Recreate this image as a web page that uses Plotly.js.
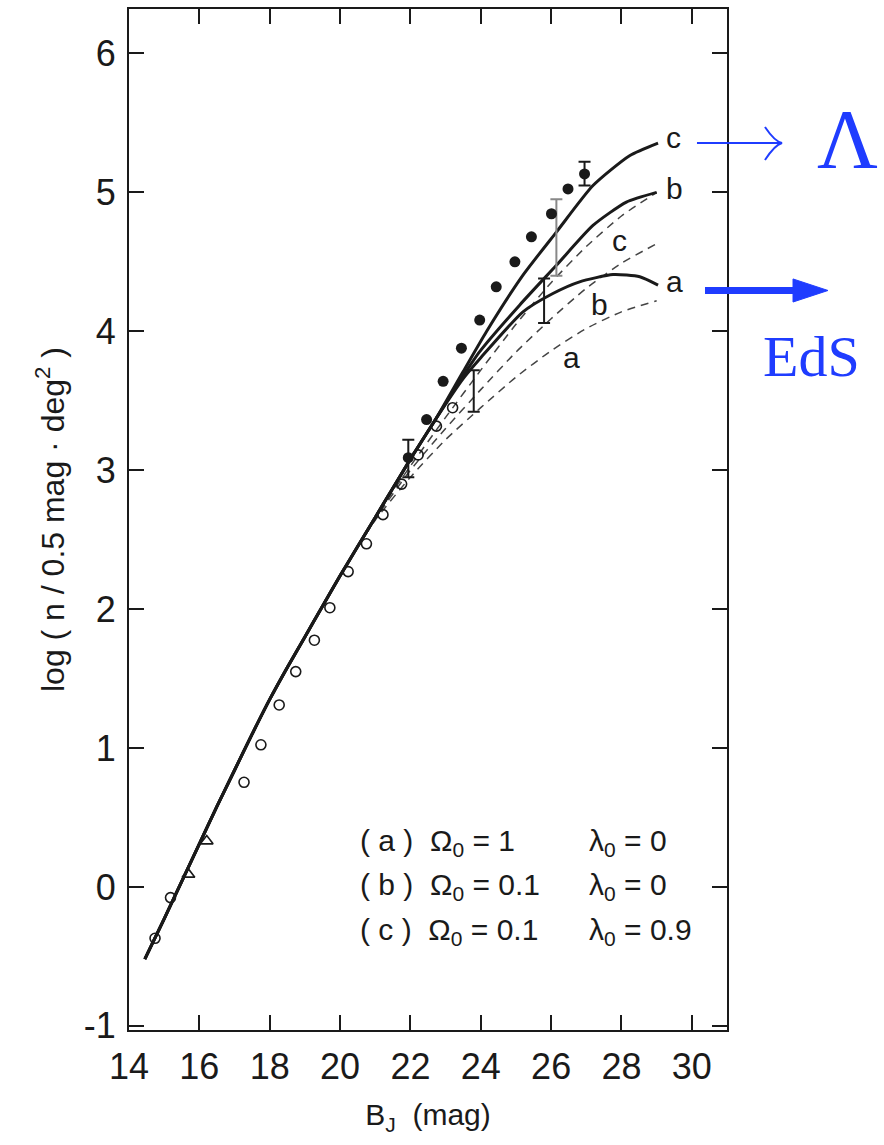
<!DOCTYPE html>
<html>
<head>
<meta charset="utf-8">
<script src="https://cdn.plot.ly/plotly-3.0.1.min.js"></script>
<style>html,body{margin:0;padding:0;background:#fff;}#chart{width:884px;height:1145px;}</style>
</head>
<body>
<div id="chart"></div>
<script>
// shared bright-end part of the model curves (all three coincide)
const baseX = [14.45, 15.0, 15.5, 16.0, 16.5, 17.0, 17.5, 18.0, 18.5, 19.0, 19.5, 20.0, 20.5, 21.0, 21.5, 22.0, 22.5, 22.74];
const baseY = [-0.52, -0.23, 0.04, 0.31, 0.58, 0.84, 1.10, 1.35, 1.58, 1.80, 2.02, 2.24, 2.45, 2.66, 2.87, 3.08, 3.28, 3.376];

// solid (evolving) model tails
const solidA_x = [23.5, 24.0, 25.2, 26.05, 26.81, 27.76, 28.52, 29.04];
const solidA_y = [3.66, 3.81, 4.14, 4.272, 4.356, 4.408, 4.392, 4.332];
const solidB_x = [23.5, 23.97, 25.11, 26.15, 27.19, 28.14, 29.0];
const solidB_y = [3.68, 3.854, 4.19, 4.475, 4.762, 4.93, 5.0];
const solidC_x = [23.5, 24.16, 25.2, 26.15, 27.19, 28.23, 29.04];
const solidC_y = [3.71, 3.997, 4.404, 4.714, 5.049, 5.264, 5.355];

// dashed (no-evolution) models
const dashX  = [20.5, 21, 22, 23, 24, 25, 26, 27, 28, 29];
const dashA_y = [2.45, 2.64, 2.95, 3.22, 3.45, 3.67, 3.86, 4.02, 4.14, 4.22];
const dashB_y = [2.45, 2.65, 3.00, 3.30, 3.58, 3.85, 4.09, 4.31, 4.49, 4.63];
const dashC_y = [2.45, 2.66, 3.03, 3.38, 3.72, 4.05, 4.35, 4.61, 4.83, 5.00];

// data points
const filledX = [21.94, 22.46, 22.93, 23.45, 23.97, 24.44, 24.97, 25.44, 26.01, 26.48, 26.95];
const filledY = [3.09, 3.364, 3.64, 3.878, 4.081, 4.32, 4.50, 4.68, 4.846, 5.025, 5.133];
const openX = [14.74, 15.18, 17.27, 17.75, 18.27, 18.74, 19.27, 19.71, 20.23, 20.75, 21.22, 21.75, 22.22, 22.74, 23.2];
const openY = [-0.37, -0.077, 0.753, 1.023, 1.31, 1.55, 1.776, 2.01, 2.27, 2.47, 2.68, 2.90, 3.11, 3.317, 3.45];
const triX = [15.69, 16.21];
const triY = [0.09, 0.33];

// error bars (low / high)
const errX    = [21.94, 23.8, 25.8, 26.95];
const errLow  = [2.95, 3.42, 4.06, 5.05];
const errHigh = [3.22, 3.72, 4.38, 5.22];
const grayErrX = [26.15];
const grayErrLow = [4.40];
const grayErrHigh = [4.95];

// curve labels
const solidLabels = ['c', 'b', 'a'];
const solidLabelY = [5.395, 5.025, 4.36];
const dashLabels = ['c', 'b', 'a'];
const dashLabelX = [27.95, 27.38, 26.58];
const dashLabelY = [4.655, 4.19, 3.81];

// parameter key
const keyLeft = ['( a )  Ω<sub>0</sub> = 1', '( b )  Ω<sub>0</sub> = 0.1', '( c )  Ω<sub>0</sub> = 0.1'];
const keyRight = ['λ<sub>0</sub> = 0', 'λ<sub>0</sub> = 0', 'λ<sub>0</sub> = 0.9'];
const keyY = [0.32, 0.0, -0.32];

const xTicks = [14, 16, 18, 20, 22, 24, 26, 28, 30];
const yTicks = [-1, 0, 1, 2, 3, 4, 5, 6];

const INK = '#1a1a1a';
const BLUE = '#1f3cff';
const FONT = "'Liberation Sans Narrow', 'Liberation Sans', Arial, sans-serif";
const SERIF = "'Liberation Serif', 'Times New Roman', serif";

function solid(tx, ty, name) {
  return {x: baseX.concat(tx), y: baseY.concat(ty), mode: 'lines', name: name,
          line: {color: INK, width: 3, shape: 'spline', smoothing: 0.6}, hoverinfo: 'skip'};
}
function dashed(ty, name) {
  return {x: dashX, y: ty, mode: 'lines', name: name,
          line: {color: '#444', width: 1.5, dash: '8px,6px', shape: 'spline', smoothing: 0.6}};
}
function errTrace(xs, lo, hi, color) {
  const mid = xs.map((_, i) => (lo[i] + hi[i]) / 2);
  return {x: xs, y: mid, mode: 'markers', marker: {size: 1, color: 'rgba(0,0,0,0)'},
          error_y: {type: 'data', symmetric: false,
                    array: hi.map((h, i) => h - mid[i]), arrayminus: lo.map((l, i) => mid[i] - l),
                    color: color, thickness: 2, width: 6}};
}

const traces = [
  dashed(dashA_y, 'a (no evol.)'), dashed(dashB_y, 'b (no evol.)'), dashed(dashC_y, 'c (no evol.)'),
  solid(solidA_x, solidA_y, 'a'), solid(solidB_x, solidB_y, 'b'), solid(solidC_x, solidC_y, 'c'),
  errTrace(errX, errLow, errHigh, INK),
  errTrace(grayErrX, grayErrLow, grayErrHigh, '#888'),
  {x: openX, y: openY, mode: 'markers', name: 'open',
   marker: {symbol: 'circle-open', size: 10, color: INK, line: {width: 1.6, color: INK}}},
  {x: triX, y: triY, mode: 'markers', name: 'tri',
   marker: {symbol: 'triangle-up-open', size: 11, color: INK, line: {width: 1.6, color: INK}}},
  {x: filledX, y: filledY, mode: 'markers', name: 'filled',
   marker: {symbol: 'circle', size: 11, color: INK}}
];

const annotations = [];
solidLabels.forEach((t, i) => annotations.push({x: 29.2, y: solidLabelY[i], xref: 'x', yref: 'y', text: t,
  showarrow: false, xanchor: 'left', yanchor: 'middle', font: {family: FONT, size: 30, color: INK}}));
dashLabels.forEach((t, i) => annotations.push({x: dashLabelX[i], y: dashLabelY[i], xref: 'x', yref: 'y', text: t,
  showarrow: false, xanchor: 'center', yanchor: 'middle', font: {family: FONT, size: 30, color: INK}}));
keyY.forEach((yy, i) => {
  annotations.push({x: 20.51, y: yy, xref: 'x', yref: 'y', text: keyLeft[i], showarrow: false,
    xanchor: 'left', yanchor: 'middle', font: {family: FONT, size: 30, color: INK}});
  annotations.push({x: 27.01, y: yy, xref: 'x', yref: 'y', text: keyRight[i], showarrow: false,
    xanchor: 'left', yanchor: 'middle', font: {family: FONT, size: 30, color: INK}});
});
// blue side notes
annotations.push({x: 1.2007, y: 0.872, xref: 'paper', yref: 'paper', text: 'Λ', showarrow: false,
  xanchor: 'center', yanchor: 'middle', font: {family: SERIF, size: 84, color: BLUE}});
annotations.push({x: 1.1405, y: 0.6592, xref: 'paper', yref: 'paper', text: 'EdS', showarrow: false,
  xanchor: 'center', yanchor: 'middle', font: {family: SERIF, size: 58, color: BLUE}});

const shapes = [
  {type: 'line', xref: 'paper', yref: 'paper', x0: 0.9498, x1: 1.0920, y0: 0.8688, y1: 0.8688, line: {color: BLUE, width: 2}},
  {type: 'path', xref: 'paper', yref: 'paper', path: 'M 1.0635 0.8844 Q 1.080 0.870 1.0920 0.8688 Q 1.080 0.867 1.0635 0.8521', line: {color: BLUE, width: 2}},
  {type: 'line', xref: 'paper', yref: 'paper', x0: 0.9632, x1: 1.115, y0: 0.7243, y1: 0.7243, line: {color: BLUE, width: 7}},
  {type: 'path', xref: 'paper', yref: 'paper', path: 'M 1.1104 0.7356 L 1.1689 0.7243 L 1.1104 0.7130 Z', fillcolor: BLUE, line: {color: BLUE, width: 1}}
];

const axisCommon = {
  showline: true, linecolor: INK, linewidth: 2, mirror: 'ticks', ticks: 'inside', ticklen: 15, tickwidth: 2,
  tickcolor: INK, showgrid: false, zeroline: false, tickfont: {family: FONT, size: 36, color: INK}
};

const layout = {
  width: 884, height: 1145,
  margin: {l: 129, r: 157, t: 9, b: 115},
  paper_bgcolor: '#fff', plot_bgcolor: '#fff',
  showlegend: false,
  xaxis: Object.assign({}, axisCommon, {range: [14, 31], tickvals: xTicks, ticktext: xTicks.map(String),
    ticklabelstandoff: 4,
    title: {text: 'B<sub>J</sub>  (mag)', font: {family: FONT, size: 30, color: INK}, standoff: 18}}),
  yaxis: Object.assign({}, axisCommon, {range: [-1.03, 6.32], tickvals: yTicks, ticktext: yTicks.map(String),
    ticklabelstandoff: 4,
    title: {text: 'log ( n / 0.5 mag · deg<sup>2</sup> )', font: {family: FONT, size: 32, color: INK}, standoff: 10}}),
  annotations: annotations,
  shapes: shapes
};

Plotly.newPlot('chart', traces, layout, {displayModeBar: false});
</script>
</body>
</html>
